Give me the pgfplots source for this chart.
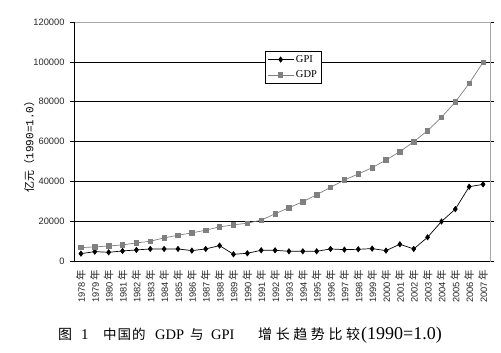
\documentclass[border=0pt]{standalone}
\usepackage{pgfplots}
\pgfplotsset{compat=1.18}
\usepackage{fontspec}
\setmainfont{Liberation Sans}
\newfontfamily\cjk{Noto Sans CJK SC}
\newfontfamily\serif{Liberation Serif}
\newfontfamily\mono{Liberation Mono}
\definecolor{gdpgray}{RGB}{128,128,128}
\newcommand{\yr}[1]{#1\,{\cjk\fontsize{10.5}{11}\selectfont 年}}
\begin{document}
\begin{tikzpicture}[x=1pt,y=1pt]
\path[use as bounding box] (0,0) rectangle (501,353);
\begin{axis}[
  at={(74pt,92pt)}, anchor=south west,
  width=416pt, height=239pt, scale only axis,
  xmin=-0.5, xmax=29.5, ymin=0, ymax=120000,
  ytick={0,20000,...,120000},
  scaled y ticks=false,
  yticklabel style={/pgf/number format/fixed,/pgf/number format/1000 sep={}, font=\fontsize{9.3}{10}\selectfont, text=black!85, xshift=-2pt},
  /pgf/number format/assume math mode=true,
  xtick={0,...,29},
  xticklabels={\yr{1978},\yr{1979},\yr{1980},\yr{1981},\yr{1982},\yr{1983},\yr{1984},\yr{1985},\yr{1986},\yr{1987},\yr{1988},\yr{1989},\yr{1990},\yr{1991},\yr{1992},\yr{1993},\yr{1994},\yr{1995},\yr{1996},\yr{1997},\yr{1998},\yr{1999},\yr{2000},\yr{2001},\yr{2002},\yr{2003},\yr{2004},\yr{2005},\yr{2006},\yr{2007}},
  xticklabel style={yshift=-9pt, rotate=90, anchor=east, font=\fontsize{9.3}{10}\selectfont, text=black!85, inner sep=0pt},
  major x tick style={draw=none},
  extra x ticks={-0.5,0.5,...,29.5},
  extra x tick labels={},
  extra x tick style={major tick length=4pt, tick style={draw=black, line width=0.5pt}, tick align=outside, grid=none},
  ytick align=outside, major tick length=4pt,
  ymajorgrids, grid style={black, line width=0.6pt},
  axis line style={draw=black!35, line width=0.6pt},
  tick style={black, line width=0.5pt},
  ylabel={{\cjk 亿元（}{\mono 1990=1.0}{\cjk ）}},
  ylabel style={font=\fontsize{11}{12}\selectfont},
  every axis y label/.append style={at={(rel axis cs:-0.108,0.49)}, anchor=center},
  legend style={at={(axis cs:13.27,105440)}, anchor=north west, font=\serif\fontsize{10.5}{11}\selectfont, draw=black, line width=0.7pt, inner sep=2pt, row sep=3pt, legend cell align=left, fill=white},
  legend image code/.code={\draw[mark repeat=2,mark phase=2,#1] plot coordinates {(0pt,0pt)(13pt,0pt)(26pt,0pt)};},
  clip=false,
]
\addplot[black, line width=0.7pt, mark=diamond*, mark size=2.6pt, mark options={solid, fill=black}] coordinates {
(0,3700)(1,4700)(2,4370)(3,5040)(4,5550)(5,6050)(6,6050)(7,6050)(8,5210)(9,6050)
(10,7730)(11,3360)(12,3870)(13,5380)(14,5380)(15,4870)(16,4870)(17,4870)(18,6050)(19,5710)
(20,5880)(21,6220)(22,5210)(23,8400)(24,6050)(25,11930)(26,19830)(27,26050)(28,37310)(29,38490)};
\addlegendentry{GPI}
\addplot[gdpgray, line width=0.7pt, mark=square*, mark size=2.2pt, mark options={solid, fill=gdpgray}] coordinates {
(0,6720)(1,7060)(2,7560)(3,8070)(4,9080)(5,9920)(6,11600)(7,12940)(8,14120)(9,15460)
(10,17140)(11,18150)(12,18990)(13,20500)(14,23700)(15,26720)(16,29750)(17,33280)(18,36970)(19,40670)
(20,43680)(21,46850)(22,50700)(23,54880)(24,59900)(25,65430)(26,72150)(27,79830)(28,89210)(29,99760)};
\addlegendentry{GDP}
\draw[black, line width=0.7pt] (rel axis cs:0,0) -- (rel axis cs:0,1);
\draw[black, line width=0.7pt] (rel axis cs:0,0) -- (rel axis cs:1,0);
\end{axis}
\begin{scope}[every node/.style={anchor=base west, inner sep=0pt}]
\node at (58,13) {\cjk\fontsize{14}{16}\selectfont 图};
\node at (81,13) {\serif\fontsize{15}{17}\selectfont 1};
\node at (103,13) {\cjk\fontsize{13.5}{15}\selectfont 中\hspace{1pt}国\hspace{1pt}的};
\node at (155,13) {\serif\fontsize{14.5}{16}\selectfont GDP};
\node at (190,13) {\cjk\fontsize{13.5}{15}\selectfont 与};
\node at (211,13) {\serif\fontsize{14.5}{16}\selectfont GPI};
\node at (258,13) {\cjk\fontsize{14}{16}\selectfont 增\hspace{3.6pt}长\hspace{3.6pt}趋\hspace{3.6pt}势\hspace{3.6pt}比\hspace{3.6pt}较};
\node at (361,13) {\serif\fontsize{18}{20}\selectfont (1990=1.0)};
\end{scope}
\end{tikzpicture}
\end{document}
